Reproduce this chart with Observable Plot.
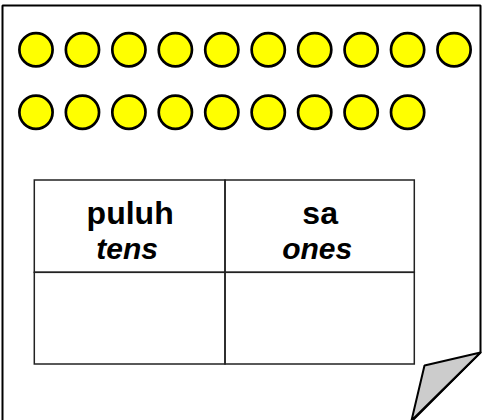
<!DOCTYPE html>
<html><head><meta charset="utf-8">
<script src="https://cdn.jsdelivr.net/npm/d3@7"></script>
<script src="https://cdn.jsdelivr.net/npm/@observablehq/plot@0.6"></script>
<style>html,body{margin:0;padding:0;background:#fff}svg{display:block}</style>
</head><body><div id="chart"></div>
<script>
// ---- content ----
const rowCounts = [10, 9];              // yellow counters per row (19 total)
const headers = ["puluh", "sa"];        // column headers (Malay)
const subHeaders = ["tens", "ones"];    // column headers (English)
const tableRows = ["header", "answer"]; // rows of the place-value table

// ---- layout ----
const W = 482, H = 420;
const page = {left: 2, top: 5, right: 480, foldY: 352, foldX: 411, flapX: 424, flapY: 365};
const dotX0 = 35.5, dotDX = 46.45, dotY0 = 49.2, dotDY = 62.6, dotR = 16.6;
const table = {x1: 34.3, xMid: 225, x2: 414.3, y1: 180, yMid: 272.3, y2: 364};
const headFont = 32, subFont = 30;
const headBase = 223, subBase = 258;

const dots = rowCounts.flatMap((n, row) => d3.range(n).map(i => ({row, i})));
const colEdges = [table.x1, table.xMid, table.x2];
const rowEdges = [table.y1, table.yMid, table.y2];
const cells = tableRows.flatMap((r, ri) => headers.map((h, ci) => ({
  x1: colEdges[ci], x2: colEdges[ci + 1], y1: rowEdges[ri], y2: rowEdges[ri + 1]
})));
const heads = headers.map((h, ci) => ({text: h, sub: subHeaders[ci], x: (colEdges[ci] + colEdges[ci + 1]) / 2}));

const outline = [
  {x: page.left, y: H + 5}, {x: page.left, y: page.top}, {x: page.right, y: page.top},
  {x: page.right, y: page.foldY}, {x: page.foldX, y: H + 1}
];
const flap = [
  {x: page.right, y: page.foldY}, {x: page.flapX, y: page.flapY}, {x: page.foldX, y: H}
];

const chart = Plot.plot({
  width: W, height: H, margin: 0,
  x: {domain: [0, W], range: [0, W], axis: null},
  y: {domain: [0, H], range: [0, H], axis: null},
  style: {background: "#fff", fontFamily: "'Liberation Sans', Arial, sans-serif"},
  marks: [
    Plot.line(outline, {x: "x", y: "y", stroke: "#000", strokeWidth: 2, strokeLinejoin: "miter"}),
    Plot.dot(dots, {x: d => dotX0 + d.i * dotDX, y: d => dotY0 + d.row * dotDY, r: dotR,
      fill: "#ffff00", stroke: "#000", strokeWidth: 2.7}),
    Plot.rect(cells, {x1: "x1", x2: "x2", y1: "y1", y2: "y2", fill: "none", stroke: "#222", strokeWidth: 1.5}),
    Plot.text(heads, {x: "x", y: headBase - 0.32 * headFont, text: "text", fontSize: headFont, fontWeight: "bold", fill: "#000", lineAnchor: "middle"}),
    Plot.text(heads, {x: d => d.x - 3, y: subBase - 0.32 * subFont, text: "sub", fontSize: subFont, fontWeight: "bold", fontStyle: "italic", fill: "#000", lineAnchor: "middle"}),
    Plot.line([...flap, flap[0]], {x: "x", y: "y", fill: "#cccccc", stroke: "#000", strokeWidth: 2, strokeLinejoin: "miter"})
  ]
});
document.getElementById("chart").appendChild(chart);
</script>
</body></html>
